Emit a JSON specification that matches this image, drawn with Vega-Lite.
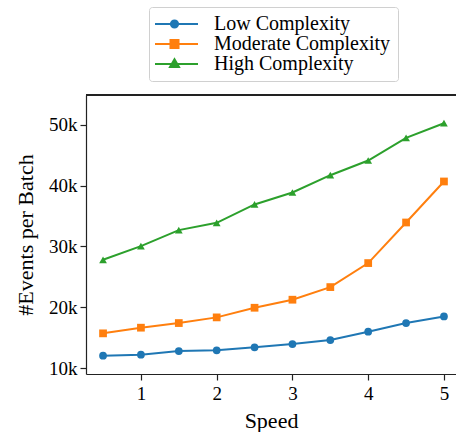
{
  "$schema": "https://vega.github.io/schema/vega-lite/v6.json",
  "autosize": {"type": "none"},
  "padding": {"left": 86, "top": 95, "right": 0, "bottom": 58},
  "width": 370,
  "height": 279,
  "background": "white",
  "config": {
    "view": {"stroke": null},
    "font": "Liberation Serif",
    "style": {
      "guide-label": {"font": "Liberation Serif", "fontWeight": 400},
      "guide-title": {"font": "Liberation Serif", "fontWeight": 400}
    },
    "axis": {
      "labelFont": "Liberation Serif",
      "titleFont": "Liberation Serif",
      "labelColor": "black",
      "titleColor": "black",
      "domainColor": "#222",
      "tickColor": "#222",
      "domainWidth": 1.2,
      "tickWidth": 1.2,
      "grid": false,
      "labelFontSize": 19,
      "titleFontSize": 22,
      "titleFontWeight": 400,
      "labelFontWeight": 400,
      "tickSize": 6
    },
    "legend": {
      "labelFont": "Liberation Serif",
      "labelFontSize": 20,
      "labelColor": "black"
    }
  },
  "data": {
    "values": [
      {"speed": 0.5, "series": "Low Complexity", "events": 12080},
      {"speed": 1.0, "series": "Low Complexity", "events": 12240},
      {"speed": 1.5, "series": "Low Complexity", "events": 12840},
      {"speed": 2.0, "series": "Low Complexity", "events": 12950},
      {"speed": 2.5, "series": "Low Complexity", "events": 13440},
      {"speed": 3.0, "series": "Low Complexity", "events": 13990},
      {"speed": 3.5, "series": "Low Complexity", "events": 14640},
      {"speed": 4.0, "series": "Low Complexity", "events": 16010},
      {"speed": 4.5, "series": "Low Complexity", "events": 17430},
      {"speed": 5.0, "series": "Low Complexity", "events": 18520},
      {"speed": 0.5, "series": "Moderate Complexity", "events": 15740},
      {"speed": 1.0, "series": "Moderate Complexity", "events": 16670},
      {"speed": 1.5, "series": "Moderate Complexity", "events": 17430},
      {"speed": 2.0, "series": "Moderate Complexity", "events": 18360},
      {"speed": 2.5, "series": "Moderate Complexity", "events": 19940},
      {"speed": 3.0, "series": "Moderate Complexity", "events": 21260},
      {"speed": 3.5, "series": "Moderate Complexity", "events": 23330},
      {"speed": 4.0, "series": "Moderate Complexity", "events": 27270},
      {"speed": 4.5, "series": "Moderate Complexity", "events": 33930},
      {"speed": 5.0, "series": "Moderate Complexity", "events": 40660},
      {"speed": 0.5, "series": "High Complexity", "events": 27810},
      {"speed": 1.0, "series": "High Complexity", "events": 30050},
      {"speed": 1.5, "series": "High Complexity", "events": 32680},
      {"speed": 2.0, "series": "High Complexity", "events": 33880},
      {"speed": 2.5, "series": "High Complexity", "events": 36890},
      {"speed": 3.0, "series": "High Complexity", "events": 38850},
      {"speed": 3.5, "series": "High Complexity", "events": 41690},
      {"speed": 4.0, "series": "High Complexity", "events": 44100},
      {"speed": 4.5, "series": "High Complexity", "events": 47810},
      {"speed": 5.0, "series": "High Complexity", "events": 50220}
    ]
  },
  "layer": [
    {
      "mark": {"type": "line", "strokeWidth": 2},
      "encoding": {
        "x": {
          "field": "speed", "type": "quantitative",
          "scale": {"domain": [0.275, 5.159], "nice": false, "zero": false},
          "axis": {"values": [1, 2, 3, 4, 5], "format": "d", "title": "Speed", "labelPadding": 4, "titlePadding": 7,
                   "labelFont": "Liberation Serif", "titleFont": "Liberation Serif", "titleFontWeight": 400, "labelFontSize": 19, "titleFontSize": 22}
        },
        "y": {
          "field": "events", "type": "quantitative",
          "scale": {"domain": [9070, 54850], "nice": false, "zero": false},
          "axis": {"values": [10000, 20000, 30000, 40000, 50000], "format": "~s", "title": "#Events per Batch", "labelPadding": 3, "titlePadding": 11,
                   "labelFont": "Liberation Serif", "titleFont": "Liberation Serif", "titleFontWeight": 400, "labelFontSize": 19, "titleFontSize": 22}
        },
        "color": {
          "field": "series", "type": "nominal",
          "scale": {"domain": ["Low Complexity", "Moderate Complexity", "High Complexity"], "range": ["#1f77b4", "#ff7f0e", "#2ca02c"]},
          "legend": null
        }
      }
    },
    {
      "mark": {"type": "rule", "color": "#222", "strokeWidth": 1.2},
      "encoding": {"y": {"datum": 54850, "type": "quantitative"}}
    },
    {
      "mark": {"type": "point", "filled": true, "opacity": 1, "size": 60},
      "encoding": {
        "x": {"field": "speed", "type": "quantitative"},
        "y": {"field": "events", "type": "quantitative"},
        "color": {
          "field": "series", "type": "nominal",
          "scale": {"domain": ["Low Complexity", "Moderate Complexity", "High Complexity"], "range": ["#1f77b4", "#ff7f0e", "#2ca02c"]},
          "legend": null
        },
        "shape": {
          "field": "series", "type": "nominal",
          "scale": {"domain": ["Low Complexity", "Moderate Complexity", "High Complexity"], "range": ["circle", "square", "triangle-up"]},
          "legend": null
        }
      }
    },
    {
      "transform": [{"filter": "datum.events < 0"}],
      "mark": {"type": "point", "filled": true, "opacity": 1, "strokeWidth": 2},
      "encoding": {
        "x": {"field": "speed", "type": "quantitative"},
        "y": {"field": "events", "type": "quantitative"},
        "color": {
          "field": "series", "type": "nominal",
          "scale": {"domain": ["Low Complexity", "Moderate Complexity", "High Complexity"], "range": ["#1f77b4", "#ff7f0e", "#2ca02c"]},
          "legend": {
            "title": null,
            "orient": "none",
            "legendX": 63,
            "legendY": -88,
            "padding": 7,
            "strokeColor": "#d0d0d0",
            "fillColor": "white",
            "cornerRadius": 3,
            "symbolSize": 100,
            "symbolStrokeWidth": 2,
            "symbolOpacity": 1,
            "symbolOffset": 17,
            "labelOffset": 21,
            "rowPadding": -3.5,
            "labelLimit": 300,
            "labelFont": "Liberation Serif",
            "labelFontSize": 20
          }
        },
        "stroke": {
          "field": "series", "type": "nominal",
          "scale": {"domain": ["Low Complexity", "Moderate Complexity", "High Complexity"], "range": ["#1f77b4", "#ff7f0e", "#2ca02c"]}
        },
        "shape": {
          "field": "series", "type": "nominal",
          "scale": {
            "domain": ["Low Complexity", "Moderate Complexity", "High Complexity"],
            "range": [
              "M-5.6,0H3M-2.42,0A0.72,0.72 0 1,0 -0.98,0A0.72,0.72 0 1,0 -2.42,0Z",
              "M-5.6,0H3M-2.5,-0.8H-0.9V0.8H-2.5Z",
              "M-5.6,0H3M-1.7,-0.95L-0.8,0.6H-2.6Z"
            ]
          }
        }
      }
    }
  ],
  "resolve": {"scale": {"shape": "independent", "color": "independent", "stroke": "independent"}}
}
